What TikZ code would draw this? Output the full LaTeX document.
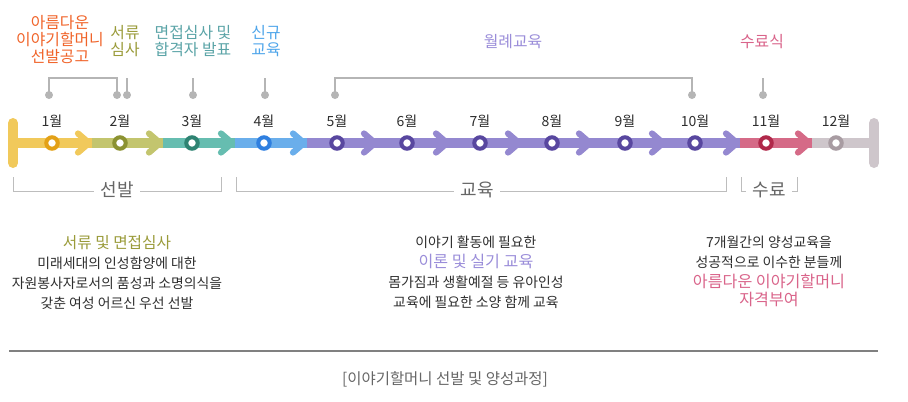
\documentclass[tikz,border=0pt]{standalone}
\usepackage{fontspec}
\setmainfont{Noto Sans CJK KR}
\usetikzlibrary{positioning}

% bar and ring colours
\definecolor{barA}{HTML}{F1C95B}\definecolor{ringA}{HTML}{E3A118}
\definecolor{barB}{HTML}{C3C56E}\definecolor{ringB}{HTML}{8C9231}
\definecolor{barC}{HTML}{66BDB0}\definecolor{ringC}{HTML}{2F8372}
\definecolor{barD}{HTML}{6AAEEB}\definecolor{ringD}{HTML}{2F7FE0}
\definecolor{barE}{HTML}{9488D0}\definecolor{ringE}{HTML}{58479F}
\definecolor{barF}{HTML}{D56A87}\definecolor{ringF}{HTML}{B0284A}
\definecolor{barG}{HTML}{CEC6CB}\definecolor{ringG}{HTML}{A89CA2}
% text colours
\definecolor{txOrange}{HTML}{F0642A}
\definecolor{txOlive}{HTML}{9A9B3A}
\definecolor{txTeal}{HTML}{5BA4A7}
\definecolor{txBlue}{HTML}{4EA5EA}
\definecolor{txPurple}{HTML}{9A8DD9}
\definecolor{txPink}{HTML}{D9648A}
\definecolor{txDark}{HTML}{2E2E2E}
\definecolor{txGray}{HTML}{666666}
\definecolor{pinGray}{HTML}{B5B5B5}
\definecolor{brGray}{HTML}{BDBDBD}

\begin{document}
\begin{tikzpicture}[x=0.75pt, y=-0.75pt,
  chev/.style={line width=4.7pt, line cap=round, line join=round},
  ringnode/.style={circle, fill=white, line width=3pt, minimum size=8.6pt, inner sep=0pt},
  mlabel/.style={font=\fontsize{10.5}{12}\selectfont, text=txDark},
  dotnode/.style={circle, fill=pinGray, minimum size=6pt, inner sep=0pt},
  pinline/.style={draw=pinGray, line width=0.9pt},
  toplabel/.style={font=\fontsize{11.9}{12.75}\selectfont, align=center},
  bracket/.style={draw=brGray, line width=0.75pt},
  brlabel/.style={font=\fontsize{13.5}{15}\selectfont, text=txGray, fill=white, inner xsep=5pt},
  desc/.style={font=\fontsize{10.4}{15}\selectfont, align=center, text=txDark}]

  \useasboundingbox (0,0) rectangle (908,401);

  % --- 1. 상단 단계 표시 ---
  \node[toplabel, text=txOrange] (notice) at (60,40) {아름다운\\이야기할머니\\선발공고};
  \node[toplabel, text=txOlive]  (paper)  at (125,41) {서류\\심사};
  \node[toplabel, text=txTeal]   (interv) at (193,41) {면접심사 및\\합격자 발표};
  \node[toplabel, text=txBlue]   (newedu) at (266,41) {신규\\교육};
  \node[toplabel, text=txPurple] (monthly) at (513,42) {월례교육};
  \node[toplabel, text=txPink]   (grad)   at (762,42) {수료식};

  % 핀 선
  \foreach \n/\px in {d1/49, d2/117, d3/127, d4/193, d5/265, d6/335, d7/692, d8/763}
    \coordinate (\n) at (\px,95);
  \draw[pinline] (d1) -- ++(0,-17) -| (d2);
  \draw[pinline] (d6) -- ++(0,-17) -| (d7);
  \foreach \n in {d3, d4, d5, d8}
    \draw[pinline] (\n) -- ++(0,-17);
  \foreach \n in {d1, d2, d3, d4, d5, d6, d7, d8}
    \node[dotnode] at (\n) {};

  % --- 2. 타임라인 막대 ---
  \foreach \i/\s/\e/\bc in {1/13/92/barA, 2/92/163/barB, 3/163/235/barC,
      4/235/307/barD, 5/307/378/barE, 6/378/450/barE, 7/450/522/barE,
      8/522/593/barE, 9/593/666/barE, 10/666/740/barE, 11/740/812/barF,
      12/812/874/barG}
    \fill[\bc] (\s,138) rectangle (\e,148);

  % 화살표 꺾쇠
  \foreach \e/\bc in {92/barA, 163/barB, 235/barC, 307/barD, 378/barE,
      450/barE, 522/barE, 593/barE, 666/barE, 740/barE, 812/barF}
    \draw[chev, \bc] (\e-14,133.5) -- (\e-3,143) -- (\e-14,152.5);

  % 양 끝
  \draw[barA, line width=7.5pt, line cap=round] (13,123) -- (13,163);
  \draw[barG, line width=7.5pt, line cap=round] (874,123) -- (874,163);

  % --- 3. 월 표시 ---
  \foreach \i/\mx/\rc in {1/52/ringA, 2/120/ringB, 3/192/ringC, 4/264/ringD,
      5/337/ringE, 6/407/ringE, 7/480/ringE, 8/552/ringE, 9/625/ringE,
      10/695/ringE, 11/766/ringF, 12/836/ringG}
  {
    \node[ringnode, draw=\rc] (m\i) at (\mx,143) {};
    \node[mlabel] (ml\i) at (\mx,121) {{\i}월};
  }

  % --- 4. 하단 구간 괄호 ---
  \draw[bracket] (13,177) |- (221,191) -- (221,177);
  \node[brlabel] (sel) at (117,190) {선발};
  \draw[bracket] (236,177) |- (726,191) -- (726,177);
  \node[brlabel] (edu) at (477,190) {교육};
  \draw[bracket] (741,177) |- (797,191) -- (797,177);
  \node[brlabel] (fin) at (769,190) {수료};

  % --- 5. 설명 ---
  \node[desc] (selDesc) at (117,273)
    {{\color{txOlive}\fontsize{11.8}{15}\selectfont 서류 및 면접심사}\\
     미래세대의 인성함양에 대한\\
     자원봉사자로서의 품성과 소명의식을\\
     갖춘 여성 어르신 우선 선발};
  \node[desc] (eduDesc) at (476,272)
    {이야기 활동에 필요한\\
     {\color{txPurple}\fontsize{12.1}{15}\selectfont 이론 및 실기 교육}\\
     몸가짐과 생활예절 등 유아인성\\
     교육에 필요한 소양 함께 교육};
  \node[desc] (finDesc) at (769,271)
    {7개월간의 양성교육을\\
     성공적으로 이수한 분들께\\
     {\color{txPink}\fontsize{12.1}{15}\selectfont 아름다운 이야기할머니}\\[-1.5pt]
     {\color{txPink}\fontsize{12.1}{15}\selectfont 자격부여}};

  % --- 6. 캡션 ---
  \draw[draw=gray, line width=1.1pt] (9,351) -- (878,351);
  \node[font=\fontsize{11.6}{13}\selectfont, text=txGray] (caption) at (445,379)
    {[이야기할머니 선발 및 양성과정]};

\end{tikzpicture}
\end{document}
